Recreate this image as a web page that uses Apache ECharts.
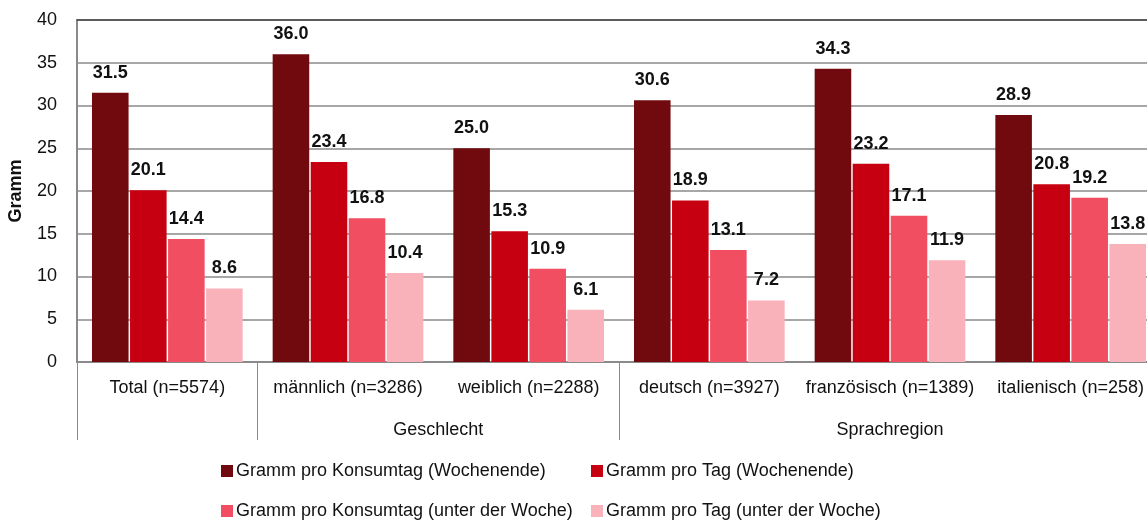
<!DOCTYPE html>
<html>
<head>
<meta charset="utf-8">
<script src="https://cdn.jsdelivr.net/npm/echarts@6/dist/echarts.min.js"></script>
<style>
  html, body { margin: 0; padding: 0; background: #fff; }
  #chart { width: 1147px; height: 523px; }
</style>
</head>
<body>
<div id="chart"></div>
<script>
// Gramm pro Konsumtag / pro Tag, Wochenende vs. unter der Woche
var categories = ['Total (n=5574)', 'männlich (n=3286)', 'weiblich (n=2288)', 'deutsch (n=3927)', 'französisch (n=1389)', 'italienisch (n=258)'];
var seriesNames = ['Gramm pro Konsumtag (Wochenende)', 'Gramm pro Tag (Wochenende)', 'Gramm pro Konsumtag (unter der Woche)', 'Gramm pro Tag (unter der Woche)'];
var konsumWE = [31.5, 36.0, 25.0, 30.6, 34.3, 28.9];
var tagWE = [20.1, 23.4, 15.3, 18.9, 23.2, 20.8];
var konsumWoche = [14.4, 16.8, 10.9, 13.1, 17.1, 19.2];
var tagWoche = [8.6, 10.4, 6.1, 7.2, 11.9, 13.8];
var groupLabels = ['Geschlecht', 'Sprachregion'];
var groupCenters = [2, 4.5];      // in category units
var groupStarts = [0, 1, 3];      // category index where a group begins
var colors = ['#710a0e', '#c70011', '#f24e62', '#f9b1ba'];

var font = 'Liberation Sans, Arial, sans-serif';
var chart = echarts.init(document.getElementById('chart'));

var values = [konsumWE, tagWE, konsumWoche, tagWoche];
var series = values.map(function (d, i) {
    return {
        name: seriesNames[i],
        type: 'bar',
        data: d,
        barGap: '4%',
        barCategoryGap: '16.6%',
        itemStyle: { color: colors[i] },
        label: {
            show: true,
            position: 'top',
            distance: 11,
            fontFamily: font,
            fontSize: 18,
            fontWeight: 'bold',
            color: '#111',
            formatter: function (p) { return p.value.toFixed(1); }
        }
    };
});

var legendBase = {
    orient: 'vertical',
    top: 462, height: 70,
    padding: 0,
    itemWidth: 12, itemHeight: 12, itemGap: 22,
    icon: 'rect',
    textStyle: { fontFamily: font, fontSize: 18, color: '#111', padding: [0, 0, 0, -2] }
};

var option = {
    animation: false,
    color: colors,
    grid: { left: 77, top: 20, width: 1084, height: 342, containLabel: false, outerBoundsMode: 'none' },
    legend: [
        Object.assign({}, legendBase, { data: [seriesNames[0], seriesNames[2]], left: 221 }),
        Object.assign({}, legendBase, { data: [seriesNames[1], seriesNames[3]], left: 591 })
    ],
    xAxis: [
        {
            type: 'category',
            data: categories,
            axisLine: { lineStyle: { color: '#8a8a8a', width: 2 } },
            axisTick: {
                show: true,
                length: 78,
                interval: function (index) { return groupStarts.indexOf(index) >= 0; },
                lineStyle: { color: '#8a8a8a', width: 1 }
            },
            axisLabel: { fontFamily: font, fontSize: 18, color: '#111', margin: 17, interval: 0 }
        },
        {
            type: 'value',
            position: 'bottom',
            min: 0, max: 6, interval: 0.5,
            axisLine: { show: false },
            axisTick: { show: false },
            splitLine: { show: false },
            axisLabel: {
                fontFamily: font, fontSize: 18, color: '#111', margin: 59,
                showMinLabel: false, showMaxLabel: false,
                formatter: function (v) {
                    var k = groupCenters.indexOf(v);
                    return k >= 0 ? groupLabels[k] : '';
                }
            }
        },
        {
            type: 'category',
            position: 'top',
            data: categories,
            axisLine: { show: true, lineStyle: { color: '#444', width: 1.5 } },
            axisTick: { show: false },
            axisLabel: { show: false }
        }
    ],
    yAxis: {
        type: 'value',
        min: 0, max: 40, interval: 5,
        name: 'Gramm',
        nameLocation: 'middle',
        nameGap: 52,
        nameTextStyle: { fontFamily: font, fontSize: 18, fontWeight: 'bold', color: '#111' },
        axisLine: { show: true, lineStyle: { color: '#8a8a8a', width: 2 } },
        axisTick: { show: false },
        axisLabel: { fontFamily: font, fontSize: 18, color: '#111', margin: 20 },
        splitLine: { lineStyle: { color: '#8a8a8a', width: 1.5 } }
    },
    series: series
};

chart.setOption(option);
window.addEventListener('resize', function () { chart.resize(); });
</script>
</body>
</html>
